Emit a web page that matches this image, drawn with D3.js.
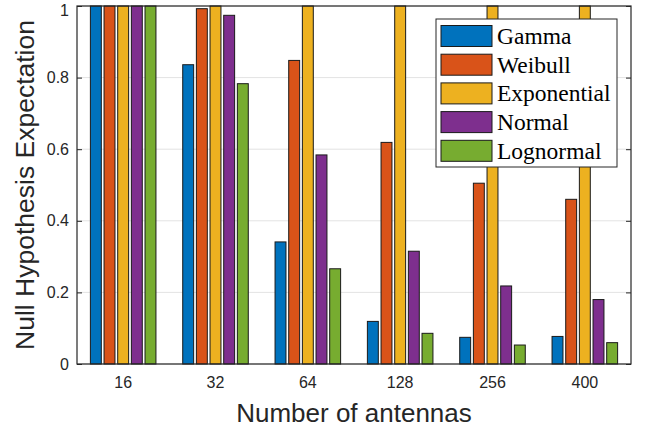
<!DOCTYPE html>
<html>
<head>
<meta charset="utf-8">
<script src="https://cdn.jsdelivr.net/npm/d3@7"></script>
<style>
  body { margin: 0; background: #fff; }
</style>
</head>
<body>
<script>
var antennas = ["16", "32", "64", "128", "256", "400"];
var seriesNames = ["Gamma", "Weibull", "Exponential", "Normal", "Lognormal"];
var gamma       = [1, 0.836, 0.341, 0.119, 0.0745, 0.077];
var weibull     = [1, 0.9925, 0.848, 0.619, 0.505, 0.46];
var exponential = [1, 1, 1, 1, 1, 1];
var normal      = [1, 0.974, 0.584, 0.315, 0.218, 0.18];
var lognormal   = [1, 0.783, 0.266, 0.0857, 0.053, 0.0596];
var yTicks = [0, 0.2, 0.4, 0.6, 0.8, 1];

var series = [gamma, weibull, exponential, normal, lognormal];
var colors = ["#0072BD", "#D95319", "#EDB120", "#7E2F8E", "#77AC30"];

var width = 646, height = 434;
var plotL = 77, plotR = 631, plotT = 6, plotB = 364;

var svg = d3.select("body")
            .append("svg")
            .attr("width", width)
            .attr("height", height);

var x = d3.scaleBand().domain(antennas).range([plotL, plotR]).padding(0);
var groupWidth = x.bandwidth() * 5 / 6.5;
var xInner = d3.scaleBand().domain(d3.range(5)).range([-groupWidth / 2, groupWidth / 2]).padding(0.2);
var y = d3.scaleLinear().domain([0, 1]).range([plotB, plotT]);

// Grid
svg.append("g")
   .selectAll("line")
   .data(yTicks)
   .enter()
   .append("line")
   .attr("x1", plotL)
   .attr("x2", plotR)
   .attr("y1", d => y(d))
   .attr("y2", d => y(d))
   .attr("stroke", "#e3e3e3")
   .attr("stroke-width", 1);

// Bars
var cells = [];
series.forEach((s, si) => s.forEach((v, ci) => cells.push({s: si, c: ci, v: v})));

svg.append("g")
   .selectAll("rect")
   .data(cells)
   .enter()
   .append("rect")
   .attr("x", d => x(antennas[d.c]) + x.bandwidth() / 2 + xInner(d.s))
   .attr("y", d => y(d.v))
   .attr("width", xInner.bandwidth())
   .attr("height", d => y(0) - y(d.v))
   .attr("fill", d => colors[d.s])
   .attr("stroke", "#1a1a1a")
   .attr("stroke-width", 1);

// Axes
var yAxis = d3.axisLeft(y).tickValues(yTicks).tickSize(-5).tickPadding(8).tickFormat(d => d3.format("")(d));
var yAxisR = d3.axisRight(y).tickValues(yTicks).tickSize(-5).tickFormat("");
var xAxis = d3.axisBottom(x).tickSize(0).tickPadding(13);

var gy = svg.append("g")
            .attr("transform", "translate(" + plotL + ",0)")
            .call(yAxis);
svg.append("g")
   .attr("transform", "translate(" + plotR + ",0)")
   .call(yAxisR);
svg.append("g")
   .attr("transform", "translate(0," + plotB + ")")
   .call(xAxis);

svg.selectAll(".tick text")
   .attr("font-family", "Liberation Sans, Arial, sans-serif")
   .attr("font-size", 16)
   .attr("fill", "#262626");
svg.selectAll(".tick line").attr("stroke", "#262626");
svg.selectAll(".domain").remove();

// top label sits a little lower so it stays inside the window
gy.selectAll(".tick text")
  .filter(d => d === 1)
  .attr("dy", "0.62em");

// Box
svg.append("rect")
   .attr("x", plotL)
   .attr("y", plotT)
   .attr("width", plotR - plotL)
   .attr("height", plotB - plotT)
   .attr("fill", "none")
   .attr("stroke", "#262626")
   .attr("stroke-width", 1.2);

// Labels
svg.append("text")
   .attr("x", (plotL + plotR) / 2)
   .attr("y", 422)
   .attr("text-anchor", "middle")
   .attr("font-family", "Liberation Sans, Arial, sans-serif")
   .attr("font-size", 26)
   .attr("fill", "#262626")
   .text("Number of antennas");

svg.append("text")
   .attr("transform", "translate(34," + (plotT + plotB) / 2 + ")rotate(-90)")
   .attr("text-anchor", "middle")
   .attr("font-family", "Liberation Sans, Arial, sans-serif")
   .attr("font-size", 26.5)
   .attr("fill", "#262626")
   .text("Null Hypothesis Expectation");

// Legend
var legend = svg.append("g").attr("transform", "translate(436,19)");

legend.append("rect")
      .attr("width", 181)
      .attr("height", 148)
      .attr("fill", "#fff")
      .attr("stroke", "#262626")
      .attr("stroke-width", 1);

var items = legend.selectAll(".item")
                  .data(seriesNames)
                  .enter()
                  .append("g")
                  .attr("class", "item")
                  .attr("transform", (d, i) => "translate(0," + (17 + i * 28.7) + ")");

items.append("rect")
     .attr("x", 5)
     .attr("y", -10.5)
     .attr("width", 51)
     .attr("height", 21)
     .attr("fill", (d, i) => colors[i])
     .attr("stroke", "#1a1a1a")
     .attr("stroke-width", 1);

items.append("text")
     .attr("x", 61)
     .attr("y", 8)
     .attr("font-family", "Liberation Serif, Times New Roman, serif")
     .attr("font-size", 23.5)
     .attr("fill", "#000")
     .text(d => d);
</script>
</body>
</html>
